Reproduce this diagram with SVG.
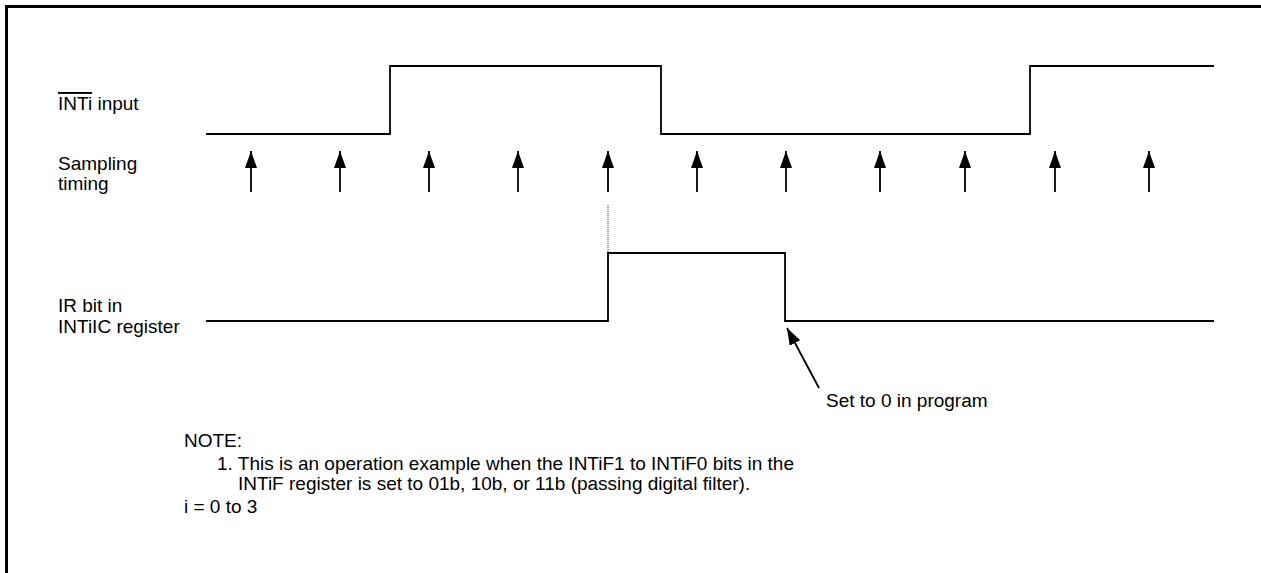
<svg xmlns="http://www.w3.org/2000/svg" width="1261" height="573" viewBox="0 0 1261 573">
<defs>
<style>
text{font-family:"Liberation Sans",Arial,sans-serif;font-size:19px;fill:#000}
.sig{fill:none;stroke:#000;stroke-width:1.8}
.arr{stroke:#000;stroke-width:1.8}
</style>
<marker id="ah" viewBox="0 0 17 12" refX="17" refY="6" markerWidth="17" markerHeight="12" markerUnits="userSpaceOnUse" orient="auto">
<path d="M0,0 L17,6 L0,12 Z" fill="#000"/>
</marker>
</defs>
<rect width="1261" height="573" fill="#fff"/>
<g id="frame">
<path d="M6.5,573 V6.5 H1261" fill="none" stroke="#000" stroke-width="3"/>
</g>
<g id="labels">
<text x="58" y="110"><tspan text-decoration="overline">INTi</tspan> input</text>
<text x="58" y="170">Sampling</text>
<text x="58" y="190">timing</text>
<text x="58" y="312">IR bit in</text>
<text x="58" y="333">INTiIC register</text>
</g>
<g id="inti-signal">
<path class="sig" d="M206,134 H390 V66 H661 V134 H1030 V66 H1214"/>
</g>
<g id="ir-signal">
<path class="sig" d="M206,321 H608 V253 H785 V321 H1214"/>
<line x1="608" y1="205" x2="608" y2="253" stroke="#333" stroke-width="1" stroke-dasharray="1,1"/>
</g>
<g id="connectors">
<g class="arr">
<line x1="251" y1="192" x2="251" y2="151" marker-end="url(#ah)"/>
<line x1="340" y1="192" x2="340" y2="151" marker-end="url(#ah)"/>
<line x1="429" y1="192" x2="429" y2="151" marker-end="url(#ah)"/>
<line x1="518" y1="192" x2="518" y2="151" marker-end="url(#ah)"/>
<line x1="608" y1="192" x2="608" y2="151" marker-end="url(#ah)"/>
<line x1="697" y1="192" x2="697" y2="151" marker-end="url(#ah)"/>
<line x1="786" y1="192" x2="786" y2="151" marker-end="url(#ah)"/>
<line x1="880" y1="192" x2="880" y2="151" marker-end="url(#ah)"/>
<line x1="965" y1="192" x2="965" y2="151" marker-end="url(#ah)"/>
<line x1="1055" y1="192" x2="1055" y2="151" marker-end="url(#ah)"/>
<line x1="1149" y1="192" x2="1149" y2="151" marker-end="url(#ah)"/>
</g>
<line class="arr" x1="819" y1="388" x2="787" y2="328" marker-end="url(#ah)"/>
</g>
<g id="notes">
<text x="826" y="407">Set to 0 in program</text>
<text x="184" y="447">NOTE:</text>
<text x="217" y="470">1. This is an operation example when the INTiF1 to INTiF0 bits in the</text>
<text x="238" y="490">INTiF register is set to 01b, 10b, or 11b (passing digital filter).</text>
<text x="184" y="513">i = 0 to 3</text>
</g>
</svg>
